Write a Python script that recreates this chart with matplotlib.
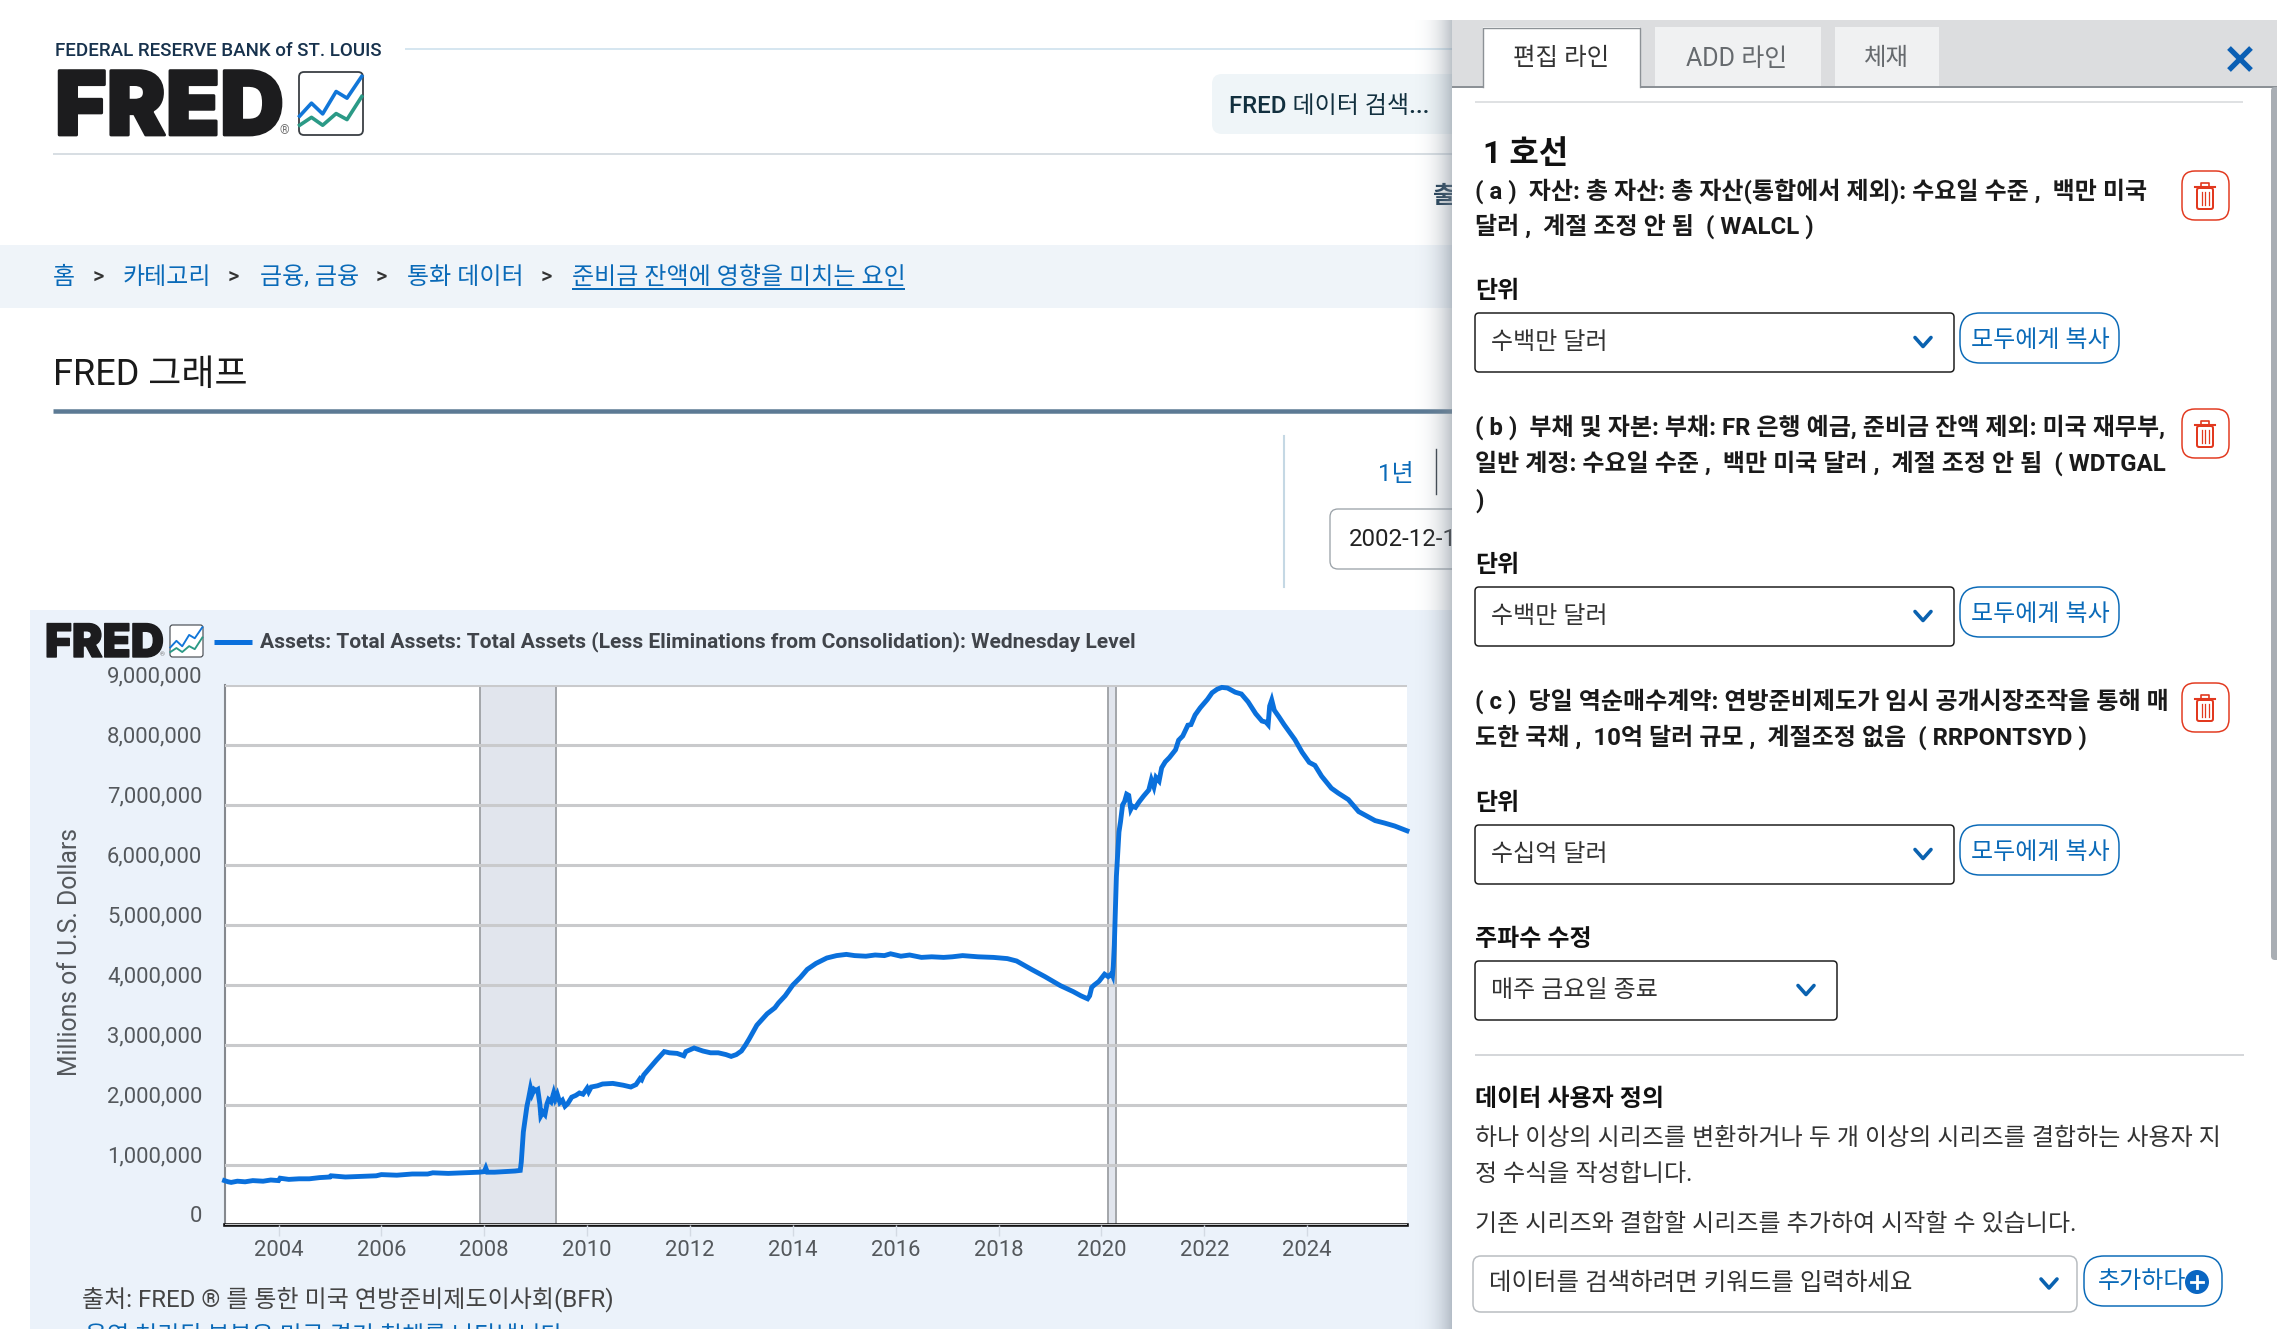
import matplotlib
matplotlib.use('Agg')
import matplotlib.pyplot as plt
from matplotlib.patches import FancyBboxPatch, Rectangle, Circle
from matplotlib.transforms import ScaledTranslation
from matplotlib import patheffects as pe

plt.rcParams['font.family'] = ['Roboto', 'Noto Sans CJK KR', 'DejaVu Sans']

# Series (year, millions of USD)
years = [2002.95, 2003.02, 2003.08, 2003.2, 2003.35, 2003.5, 2003.7, 2003.85, 2004.0, 2004.03, 2004.2, 2004.4, 2004.6,
         2004.8, 2005.0, 2005.02, 2005.3, 2005.6, 2005.9, 2006.0, 2006.3, 2006.6, 2006.9, 2007.0, 2007.3, 2007.6,
         2007.9, 2008.0, 2008.03, 2008.06, 2008.2, 2008.4, 2008.6, 2008.7, 2008.72, 2008.74, 2008.76, 2008.8, 2008.83,
         2008.86, 2008.9, 2008.93, 2008.97, 2009.0, 2009.04, 2009.08, 2009.1, 2009.14, 2009.18, 2009.22, 2009.25,
         2009.3, 2009.35, 2009.38, 2009.42, 2009.47, 2009.52, 2009.57, 2009.62, 2009.7, 2009.78, 2009.85, 2009.92,
         2010.0, 2010.03, 2010.08, 2010.2, 2010.3, 2010.5, 2010.7, 2010.85, 2010.95, 2011.03, 2011.06, 2011.1, 2011.2,
         2011.35, 2011.5, 2011.6, 2011.75, 2011.88, 2011.92, 2012.0, 2012.08, 2012.15, 2012.25, 2012.4, 2012.55,
         2012.7, 2012.8, 2012.9, 2013.0, 2013.08, 2013.15, 2013.3, 2013.5, 2013.65, 2013.72, 2013.85, 2014.0, 2014.15,
         2014.28, 2014.45, 2014.66, 2014.85, 2015.04, 2015.2, 2015.42, 2015.6, 2015.78, 2015.9, 2016.1, 2016.27,
         2016.5, 2016.7, 2016.93, 2017.1, 2017.3, 2017.6, 2017.9, 2018.17, 2018.35, 2018.64, 2018.9, 2019.2, 2019.45,
         2019.6, 2019.73, 2019.77, 2019.81, 2019.86, 2019.95, 2020.06, 2020.13, 2020.2, 2020.215, 2020.23, 2020.25,
         2020.27, 2020.29, 2020.31, 2020.34, 2020.37, 2020.41, 2020.45, 2020.49, 2020.53, 2020.57, 2020.6, 2020.66,
         2020.73, 2020.82, 2020.92, 2020.97, 2021.02, 2021.06, 2021.12, 2021.17, 2021.24, 2021.32, 2021.44, 2021.5,
         2021.58, 2021.68, 2021.74, 2021.82, 2021.92, 2022.06, 2022.15, 2022.25, 2022.34, 2022.45, 2022.6, 2022.72,
         2022.85, 2023.0, 2023.12, 2023.2, 2023.24, 2023.27, 2023.31, 2023.36, 2023.45, 2023.55, 2023.65, 2023.76,
         2023.9, 2024.04, 2024.15, 2024.28, 2024.47, 2024.6, 2024.8, 2024.92, 2025.0, 2025.15, 2025.32, 2025.5,
         2025.7, 2025.85, 2025.94]
assets = [0.74, 0.72, 0.71, 0.73, 0.72, 0.74, 0.73, 0.75, 0.74, 0.78, 0.76, 0.77, 0.77,
          0.79, 0.80, 0.82, 0.80, 0.81, 0.82, 0.84, 0.83, 0.85, 0.85, 0.87, 0.86, 0.87,
          0.88, 0.89, 0.95, 0.88, 0.88, 0.89, 0.90, 0.91, 1.05, 1.30, 1.55, 1.80, 1.98,
          2.10, 2.28, 2.18, 2.26, 2.24, 2.26, 2.02, 1.82, 1.88, 1.84, 2.02, 2.09,
          2.05, 2.20, 2.10, 2.18, 2.04, 2.08, 1.98, 2.02, 2.13, 2.16, 2.20, 2.18,
          2.28, 2.22, 2.30, 2.32, 2.35, 2.36, 2.33, 2.30, 2.34, 2.44, 2.42, 2.50, 2.60,
          2.75, 2.89, 2.87, 2.86, 2.82, 2.89, 2.92, 2.95, 2.93, 2.90, 2.87, 2.87,
          2.84, 2.81, 2.84, 2.90, 3.00, 3.10, 3.33, 3.52, 3.62, 3.70, 3.82, 4.00, 4.13,
          4.26, 4.36, 4.45, 4.49, 4.51, 4.49, 4.48, 4.50, 4.49, 4.52, 4.48, 4.50,
          4.46, 4.47, 4.46, 4.47, 4.49, 4.47, 4.46, 4.44, 4.40, 4.26, 4.14, 3.99, 3.89,
          3.82, 3.77, 3.82, 3.96, 4.00, 4.06, 4.18, 4.14, 4.19, 4.16, 4.31, 4.67,
          5.25, 5.81, 6.10, 6.55, 6.72, 7.00, 7.06, 7.18, 7.16, 6.93, 6.98, 6.96,
          7.05, 7.15, 7.25, 7.42, 7.30, 7.46, 7.40, 7.62, 7.72, 7.79, 7.92, 8.08,
          8.15, 8.33, 8.34, 8.50, 8.62, 8.76, 8.87, 8.93, 8.96, 8.95, 8.88, 8.85,
          8.72, 8.52, 8.40, 8.38, 8.34, 8.65, 8.75, 8.58, 8.47, 8.34, 8.22, 8.09,
          7.88, 7.71, 7.66, 7.48, 7.28, 7.20, 7.09, 6.97, 6.89, 6.82, 6.74, 6.70,
          6.65, 6.60, 6.57]

recessions = [(2007.92, 2009.40), (2020.13, 2020.28)]
year_ticks = [2004, 2006, 2008, 2010, 2012, 2014, 2016, 2018, 2020, 2022, 2024]
value_ticks = [0, 1, 2, 3, 4, 5, 6, 7, 8, 9]
value_labels = ['0', '1,000,000', '2,000,000', '3,000,000', '4,000,000', '5,000,000',
                '6,000,000', '7,000,000', '8,000,000', '9,000,000']

breadcrumb = [('홈', 53), ('>', 93), ('카테고리', 123), ('>', 228), ('금융, 금융', 260),
              ('>', 376), ('통화 데이터', 407), ('>', 541), ('준비금 잔액에 영향을 미치는 요인', 572)]

# logo icon polylines, as fractions of the icon box
icon_x = [0.01, 0.195, 0.37, 0.58, 0.75, 0.98]
icon_blue = [0.70, 0.495, 0.665, 0.31, 0.415, 0.07]
icon_green = [0.845, 0.72, 0.845, 0.66, 0.755, 0.39]

W, H = 2277, 1329
BLUE = '#0a6ab8'
LINE = '#0a70dc'
GREY = '#54585c'
RED = '#e2391f'

fig = plt.figure(figsize=(W / 100, H / 100), dpi=100, facecolor='white')


def page_axes(z):
    a = fig.add_axes([0, 0, 1, 1], zorder=z)
    a.set_xlim(0, W)
    a.set_ylim(H, 0)
    a.axis('off')
    return a


def txt(a, x, y, s, px=24, color='#222222', weight='normal', ha='left', **kw):
    return a.text(x, y + 5.5, s, fontsize=px * 0.72, color=color, fontweight=weight, ha=ha, va='center', **kw)


def box(a, x0, y0, x1, y1, r=0, fc='none', ec='none', lw=1.5, z=2):
    if r == 0:
        p = Rectangle((x0, y0), x1 - x0, y1 - y0, fc=fc, ec=ec, lw=lw * 0.72, zorder=z)
    else:
        p = FancyBboxPatch((x0 + r, y0 + r), x1 - x0 - 2 * r, y1 - y0 - 2 * r,
                           boxstyle=f'round,pad={r},rounding_size={r}', fc=fc, ec=ec, lw=lw * 0.72, zorder=z)
    a.add_patch(p)


def hline(a, x0, x1, y, color, lw=1.5):
    a.plot([x0, x1], [y, y], color=color, lw=lw * 0.72, solid_capstyle='butt')


def logo(a, x, y, x_box0, x_box1, y0, y1, px, lw):
    # FRED wordmark with the little chart icon next to it
    a.text(x, y, 'FRED', fontsize=px * 0.72, color='#1c1c1e', fontweight='black', family=['Inter', 'Roboto'],
           ha='left', va='baseline', path_effects=[pe.withStroke(linewidth=lw, foreground='#1c1c1e')])
    a.text(x_box0 - 19 * px / 88, y - 1, '®', fontsize=px * 0.1, color='#777777', ha='left', va='baseline')
    box(a, x_box0, y0, x_box1, y1, r=5 * px / 88, fc='white', ec='#3a3f44', lw=1.5 * px / 88 + 0.3, z=3)
    w, h = x_box1 - x_box0, y1 - y0
    a.plot([x_box0 + w * v for v in icon_x], [y0 + h * v for v in icon_blue],
           color='#1176d8', lw=2.6 * px / 88, zorder=4)
    a.plot([x_box0 + w * v for v in icon_x], [y0 + h * v for v in icon_green],
           color='#2b9a86', lw=2.6 * px / 88, zorder=4)


# ---------- page behind the panel ----------
bg = page_axes(1)
txt(bg, 55, 46, 'FEDERAL RESERVE BANK of ST. LOUIS', px=18.8, color='#17324d', weight='medium')
hline(bg, 405, 1452, 48.5, '#c9deec')
logo(bg, 55, 135, 299, 363, 72, 135, 88.5, 2.0)
hline(bg, 53, 1452, 154, '#d8dee3', 2)
box(bg, 1212, 74, 1470, 134, r=10, fc='#eff5f8')
txt(bg, 1229, 101, 'FRED 데이터 검색...', px=24, color='#12303f', weight='medium')
txt(bg, 1433, 191, '출처', px=24, color='#1c3a52', weight='bold')

box(bg, 0, 245, 1460, 308, fc='#eff4f9')
for label, x in breadcrumb:
    if label == '>':
        txt(bg, x, 272, label, px=22, color='#333333', weight='medium')
    else:
        txt(bg, x, 272, label, px=24, color=BLUE)
hline(bg, 572, 905, 289, BLUE, 2)

txt(bg, 53, 369, 'FRED 그래프', px=36, color='#1a1a1a')
hline(bg, 53, 1460, 411, '#5c7a94', 4.5)
bg.plot([1284, 1284], [436, 587], color='#c5d8e4', lw=1.5)
txt(bg, 1378, 469, '1년', px=24, color=BLUE)
bg.plot([1436, 1436], [449, 494], color='#39424a', lw=1)
box(bg, 1330, 509, 1480, 569, r=8, fc='white', ec='#9aa2a8', lw=1.3)
txt(bg, 1349, 534, '2002-12-18', px=24, color='#222222')

# chart background
box(bg, 30, 610, 1460, 1340, fc='#ebf2fa')
logo(bg, 45, 657, 170, 203, 625, 657, 46, 1.0)
hline(bg, 214, 252, 642, LINE, 5)
txt(bg, 260, 636, 'Assets: Total Assets: Total Assets (Less Eliminations from Consolidation): Wednesday Level',
    px=20.95, color='#40444a', weight='bold')
txt(bg, 70, 947, 'Millions of U.S. Dollars', px=24.8, color=GREY, ha='center', rotation=90)
txt(bg, 82, 1294, '출처: FRED ® 를 통한 미국 연방준비제도이사회(BFR)', px=24, color='#444444')
txt(bg, 85, 1331, '음영 처리된 부분은 미국 경기 침체를 나타냅니다', px=24, color=BLUE, style='italic')

# ---------- the chart ----------
ax = fig.add_axes([224.5 / W, 1 - 1225 / H, (1407 - 224.5) / W, (1225 - 685) / H], zorder=2)
ax.set_facecolor('white')
ax.set_xlim(2002.95, 2025.94)
ax.set_ylim(0, 9)

for start, end in recessions:
    ax.axvspan(start, end, fc='#e1e5ed', ec='none', zorder=1)
    ax.axvline(start, color='#a3a6aa', lw=1.4, zorder=2)
    ax.axvline(end, color='#a3a6aa', lw=1.4, zorder=2)

ax.set_yticks(value_ticks, value_labels)
ax.set_xticks(year_ticks, [str(y) for y in year_ticks])
ax.grid(axis='y', color='#c9cacc', lw=2.2, zorder=1.5)
ax.set_axisbelow(False)
for gl in ax.get_ygridlines():
    gl.set_zorder(1.5)
ax.plot(years, assets, color=LINE, lw=3.5, zorder=4, clip_on=False, solid_joinstyle='miter')

ax.tick_params(axis='y', length=0, pad=16, labelsize=22 * 0.72, labelcolor=GREY)
ax.tick_params(axis='x', length=8, width=1, color='#d3dae3', pad=3, labelsize=22 * 0.72, labelcolor=GREY)
lift = ScaledTranslation(0, 10.5 / 100, fig.dpi_scale_trans)
for lab in ax.get_yticklabels():
    lab.set_transform(lab.get_transform() + lift)

for side in ['top', 'right']:
    ax.spines[side].set_visible(False)
ax.spines['left'].set_color('#85898e')
ax.spines['left'].set_linewidth(1.5)
ax.spines['bottom'].set_color('#111111')
ax.spines['bottom'].set_linewidth(2.6)

# ---------- editing panel ----------
pn = page_axes(3)
# shadow that the panel throws on the page, strongest next to its edge
for i in range(42):
    pn.add_patch(Rectangle((1410 + i, 20), 1, H, fc='#7f8a96', ec='none', alpha=0.5 * (i / 41) ** 2.5, zorder=1))
box(pn, 1452, 20, W, H, fc='white', z=1.5)
box(pn, 1452, 20, W, 86, fc='#dcdddf', z=1.6)
hline(pn, 1452, W, 86.5, '#8c9196', 2)
box(pn, 2271, 87, W + 5, 960, r=4, fc='#a9aeb4')

box(pn, 1655, 27, 1821, 86, fc='#f0f1f2')
box(pn, 1835, 27, 1939, 86, fc='#f0f1f2')
box(pn, 1483, 27, 1640, 90, fc='white', ec='none')
pn.plot([1483, 1483, 1640, 1640], [87, 27.5, 27.5, 87], color='#8c9196', lw=1, zorder=3)
txt(pn, 1561, 53, '편집 라인', px=24.5, color='#333333', ha='center')
txt(pn, 1737, 53, 'ADD 라인', px=25, color='#666a6e', ha='center')
txt(pn, 1886, 53, '체재', px=24.5, color='#666a6e', ha='center')
for sign in (1, -1):
    pn.plot([2229, 2251], [59 - 11 * sign, 59 + 11 * sign], color='#0a5fb4', lw=3.8, solid_capstyle='butt')

hline(pn, 1475, 2243, 102, '#dfe1e3', 2)
txt(pn, 1483, 148, '1 호선', px=32, color='#111111', weight='bold')


def chevron(a, x, y):
    a.plot([x - 8, x, x + 8], [y - 5, y + 4, y - 5], color='#0a62b0', lw=2.6, solid_capstyle='round')


def select(a, x1, y0, y1, label):
    box(a, 1475, y0, x1, y1, r=4, fc='white', ec='#1b1b1b', lw=1.5)
    txt(a, 1491, y0 + 24, label, px=24, color='#333333')
    chevron(a, x1 - 31, y0 + 29.5)


def copy_button(a, y0):
    box(a, 1960, y0, 2119, y0 + 50, r=20, fc='white', ec=BLUE, lw=1.5)
    txt(a, 2040, y0 + 22, '모두에게 복사', px=24, color=BLUE, ha='center')


def trash(a, y0):
    box(a, 2182, y0, 2229, y0 + 49, r=13, fc='white', ec=RED, lw=1.5)
    cy = y0 + 25
    a.plot([2195, 2215], [cy - 9, cy - 9], color=RED, lw=1.5)
    a.plot([2201, 2201, 2209, 2209], [cy - 9, cy - 13, cy - 13, cy - 9], color=RED, lw=1.2)
    box(a, 2197, cy - 8, 2213, cy + 13, r=2, ec=RED, lw=2)
    for x in (2201.5, 2205, 2208.5):
        a.plot([x, x], [cy - 4, cy + 9], color=RED, lw=0.9)


INK = '#1a1a1a'
txt(pn, 1475, 186, '( a )  자산: 총 자산: 총 자산(통합에서 제외): 수요일 수준 ,  백만 미국', px=24, color=INK, weight='bold')
txt(pn, 1475, 221, '달러 ,  계절 조정 안 됨  ( WALCL )', px=24, color=INK, weight='bold')
trash(pn, 171)
txt(pn, 1475, 286, '단위', px=24, color='#111111', weight='bold')
select(pn, 1954, 313, 372, '수백만 달러')
copy_button(pn, 313)

txt(pn, 1475, 422, '( b )  부채 및 자본: 부채: FR 은행 예금, 준비금 잔액 제외: 미국 재무부,', px=24, color=INK, weight='bold')
txt(pn, 1475, 458, '일반 계정: 수요일 수준 ,  백만 미국 달러 ,  계절 조정 안 됨  ( WDTGAL', px=24, color=INK, weight='bold')
txt(pn, 1475, 495, ')', px=24, color=INK, weight='bold')
trash(pn, 409)
txt(pn, 1475, 560, '단위', px=24, color='#111111', weight='bold')
select(pn, 1954, 587, 646, '수백만 달러')
copy_button(pn, 587)

txt(pn, 1475, 696, '( c )  당일 역순매수계약: 연방준비제도가 임시 공개시장조작을 통해 매', px=24, color=INK, weight='bold')
txt(pn, 1475, 732, '도한 국채 ,  10억 달러 규모 ,  계절조정 없음  ( RRPONTSYD )', px=24, color=INK, weight='bold')
trash(pn, 683)
txt(pn, 1475, 798, '단위', px=24, color='#111111', weight='bold')
select(pn, 1954, 825, 884, '수십억 달러')
copy_button(pn, 825)

txt(pn, 1475, 934, '주파수 수정', px=24, color='#111111', weight='bold')
select(pn, 1837, 961, 1020, '매주 금요일 종료')

hline(pn, 1475, 2244, 1054.5, '#d5d7da', 2)
txt(pn, 1475, 1094, '데이터 사용자 정의', px=24, color='#111111', weight='bold')
txt(pn, 1475, 1133, '하나 이상의 시리즈를 변환하거나 두 개 이상의 시리즈를 결합하는 사용자 지', px=24, color='#333333')
txt(pn, 1475, 1169, '정 수식을 작성합니다.', px=24, color='#333333')
txt(pn, 1475, 1219, '기존 시리즈와 결합할 시리즈를 추가하여 시작할 수 있습니다.', px=24, color='#333333')

box(pn, 1473, 1256, 2077, 1312, r=8, fc='white', ec='#b8bcc0', lw=1.5)
txt(pn, 1489, 1278, '데이터를 검색하려면 키워드를 입력하세요', px=24.5, color='#333333')
chevron(pn, 2049, 1284)
box(pn, 2084, 1256, 2222, 1306, r=20, fc='white', ec=BLUE, lw=1.5)
txt(pn, 2098, 1276, '추가하다', px=24, color=BLUE)
pn.add_patch(Circle((2197, 1282), 12, fc='#0a66c2', ec='none', zorder=4))
pn.plot([2191, 2203], [1282, 1282], color='white', lw=2, zorder=5)
pn.plot([2197, 2197], [1276, 1288], color='white', lw=2, zorder=5)

fig.savefig('out.png', dpi=100)
